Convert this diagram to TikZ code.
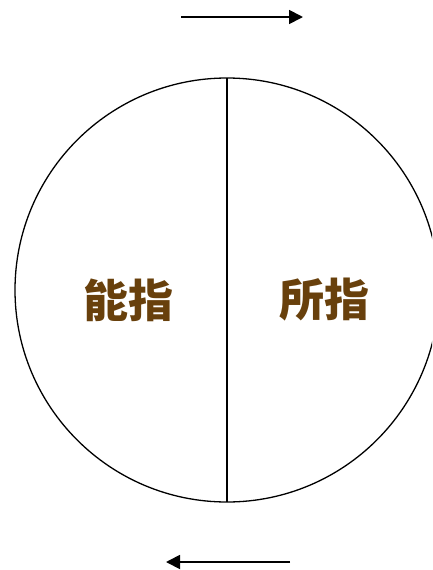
\documentclass[tikz,border=0pt]{standalone}
\usepackage{fontspec}
\newfontfamily\cjk{Noto Sans CJK SC}
\usetikzlibrary{arrows.meta}
\definecolor{txtbrown}{RGB}{104,64,12}
\begin{document}
\begin{tikzpicture}[x=1pt,y=1pt,
  line/.style={line width=1.3pt,black},
  arr/.style={line width=1.8pt,-{Triangle[length=14pt,width=14pt]}},
  lbl/.style={font=\cjk\bfseries\fontsize{45}{45}\selectfont,text=txtbrown,inner sep=0pt}]
\useasboundingbox (0,0) rectangle (432,-570);
\clip (0,0) rectangle (432,-570);
\coordinate (c) at (227,-290);
\coordinate (top) at (227,-78);
\coordinate (bot) at (227,-502);
\draw[line] (c) circle (212);
\draw[line] (top) -- (bot);
\node[lbl] (a) at (128,-300) {能指};
\node[lbl] (b) at (324,-300) {所指};
\coordinate (t1) at (181,-17);
\coordinate (t2) at (303,-17);
\coordinate (b1) at (290,-562);
\coordinate (b2) at (166,-562);
\draw[arr] (t1) -- (t2);
\draw[arr] (b1) -- (b2);
\end{tikzpicture}
\end{document}
